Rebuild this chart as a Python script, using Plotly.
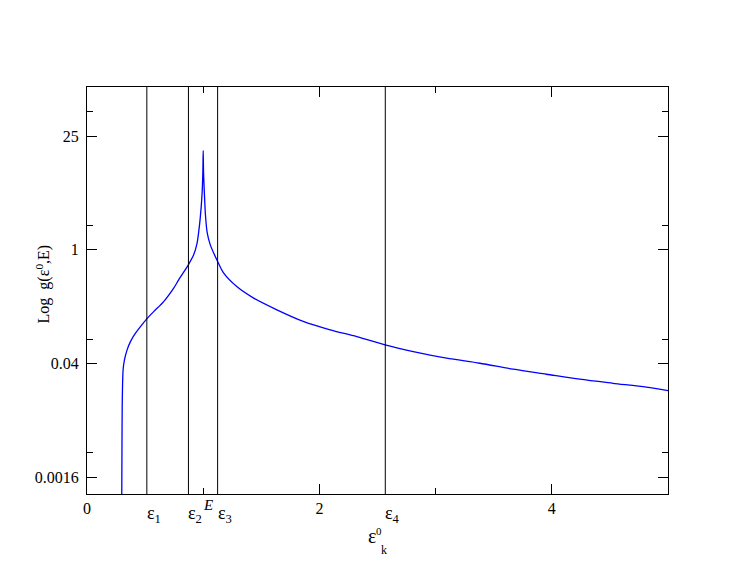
import plotly.graph_objects as go

# curve: energy eps0_k vs g(eps0, E)
x_vals = [0.299, 0.301, 0.303, 0.306, 0.311, 0.322, 0.345, 0.374, 0.417, 0.460,
          0.511, 0.574, 0.660, 0.746, 0.789, 0.872, 0.918, 0.947, 0.961, 0.975,
          0.990, 0.997, 1.000, 1.003, 1.010, 1.020, 1.035, 1.061, 1.124, 1.175,
          1.289, 1.434, 1.634, 1.866, 2.092, 2.321, 2.565, 2.808, 3.094, 3.380,
          3.667, 3.953, 4.240, 4.526, 4.813, 5.000]
g_vals = [0.0008, 0.004, 0.012, 0.022, 0.034, 0.044, 0.059, 0.0745, 0.0945, 0.114,
          0.140, 0.174, 0.231, 0.338, 0.427, 0.653, 0.867, 1.2, 1.65, 2.5,
          4.8, 9.0, 16.5, 9.0, 5.0, 2.6, 1.6, 1.15, 0.72, 0.52,
          0.353, 0.255, 0.183, 0.131, 0.104, 0.0859, 0.0678, 0.0561, 0.0466, 0.0404,
          0.0341, 0.0296, 0.0257, 0.0229, 0.0205, 0.0186]

# special energies (vertical lines) and their labels
eps_vals = [0.515, 0.873, 1.124, 2.567]
eps_labels = ["ε<sub>1</sub>", "ε<sub>2</sub>", "ε<sub>3</sub>", "ε<sub>4</sub>"]
E_val = 1.0

x_major = [0, 2, 4]
x_minor = [1, 3, 5]
y_major = [0.0016, 0.04, 1, 25]
y_major_text = ["0.0016", "0.04", "1", "25"]
y_minor = [0.0032, 0.08, 2, 50]

region_labels = ["B", "C"]
region_x = [0.70, 1.877]
region_y = [2.08, 2.2]

FONT = "Liberation Serif, Times New Roman, serif"

fig = go.Figure()
fig.add_trace(go.Scatter(x=x_vals, y=g_vals, mode="lines",
                         line=dict(color="#0000ff", width=1.3, shape="spline",
                                   smoothing=0.8),
                         showlegend=False, cliponaxis=True))

for xv in eps_vals:
    fig.add_shape(type="line", x0=xv, x1=xv, y0=0, y1=1, xref="x", yref="paper",
                  line=dict(color="black", width=1))

for xv, lab in zip(eps_vals, eps_labels):
    fig.add_annotation(x=xv, y=-0.017, xref="x", yref="paper", text=lab,
                       showarrow=False, xanchor="left", yanchor="top", xshift=-2,
                       font=dict(family=FONT, size=18, color="black"))

fig.add_annotation(x=E_val, y=-0.003, xref="x", yref="paper", text="<i>E</i>",
                   showarrow=False, xanchor="left", yanchor="top", xshift=-2,
                   font=dict(family=FONT, size=15, color="black"))

for lab, rx, ry in zip(region_labels, region_x, region_y):
    fig.add_annotation(x=rx, y=ry, xref="x", yref="y", text=lab, showarrow=False,
                       font=dict(family=FONT, size=15, color="black"))

# x axis title: eps with superscript 0 and subscript k
fig.add_annotation(x=0.4905, y=-0.104, xref="paper", yref="paper", text="ε",
                   showarrow=False, xanchor="center", yanchor="middle",
                   font=dict(family=FONT, size=20, color="black"))
fig.add_annotation(x=0.503, y=-0.091, xref="paper", yref="paper", text="0",
                   showarrow=False, xanchor="center", yanchor="middle",
                   font=dict(family=FONT, size=11, color="black"))
fig.add_annotation(x=0.512, y=-0.137, xref="paper", yref="paper", text="k",
                   showarrow=False, xanchor="center", yanchor="middle",
                   font=dict(family=FONT, size=12, color="black"))

# y axis title
fig.add_annotation(x=-0.0757, y=0.515, xref="paper", yref="paper",
                   text="Log  g(ε<sup>0</sup>,E)", textangle=-90,
                   showarrow=False, xanchor="center", yanchor="middle",
                   font=dict(family=FONT, size=16, color="black"))

fig.update_layout(
    width=752, height=581,
    margin=dict(l=79, r=92, t=79, b=95),
    paper_bgcolor="white", plot_bgcolor="white",
    font=dict(family=FONT, size=16, color="black"),
    xaxis=dict(range=[0, 5], showgrid=False, zeroline=False,
               showline=True, linecolor="black", linewidth=1, mirror="allticks",
               ticks="inside", ticklen=10, tickcolor="black", tickwidth=1,
               tickmode="array", tickvals=x_major, ticktext=[str(v) for v in x_major],
               tickfont=dict(family=FONT, size=16),
               minor=dict(tickmode="array", tickvals=x_minor, ticks="inside",
                          ticklen=6, tickcolor="black", tickwidth=1, showgrid=False)),
    yaxis=dict(type="log", range=[-3, 2], showgrid=False, zeroline=False,
               showline=True, linecolor="black", linewidth=1, mirror="allticks",
               ticks="inside", ticklen=10, tickcolor="black", tickwidth=1,
               tickmode="array", tickvals=y_major, ticktext=y_major_text,
               tickfont=dict(family=FONT, size=16), ticklabelstandoff=4,
               minor=dict(tickmode="array", tickvals=y_minor, ticks="inside",
                          ticklen=6, tickcolor="black", tickwidth=1, showgrid=False)),
)

fig.write_html("out.html")
